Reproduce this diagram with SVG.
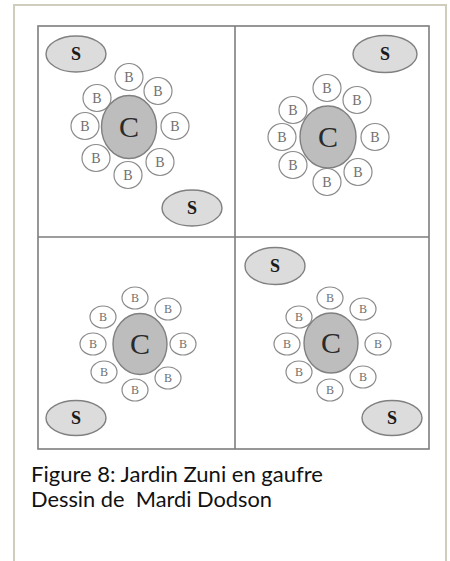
<svg xmlns="http://www.w3.org/2000/svg" width="450" height="561" viewBox="0 0 450 561">
<style>
.frame{fill:none;stroke:#cfcdbc;stroke-width:2}
.grid{fill:none;stroke:#7d7d7d;stroke-width:1.6}
.s{fill:#dcdcdc;stroke:#808080;stroke-width:1.4}
.c{fill:#bdbdbd;stroke:#808080;stroke-width:1.4}
.b{fill:#ffffff;stroke:#8a8a8a;stroke-width:1.2}
.st{font-family:"Liberation Serif",serif;font-weight:bold;font-size:18px;fill:#1a1a1a;text-anchor:middle}
.ct{font-family:"Liberation Serif",serif;font-size:30px;fill:#2a2a2a;text-anchor:middle}
.bt{font-family:"Liberation Serif",serif;font-size:14px;fill:#707070;text-anchor:middle}
.bt2{font-family:"Liberation Serif",serif;font-size:12px;fill:#707070;text-anchor:middle}
.cap{font-family:Lato,"Open Sans",sans-serif;font-size:21px;fill:#111111}
</style>
<rect width="450" height="561" fill="#ffffff"/>
<path class="frame" d="M14,562 V5 H446 V562"/>
<g id="grid">
<rect class="grid" x="38" y="26" width="391" height="423"/>
<line class="grid" x1="235" y1="26" x2="235" y2="449"/>
<line class="grid" x1="38" y1="237" x2="429" y2="237"/>
</g>
<g id="connectors"/>
<!-- Top-left -->
<g id="tl-s1"><ellipse class="s" cx="76" cy="54" rx="30" ry="18"/><text class="st" x="76" y="60">S</text></g>
<g id="tl-s2"><ellipse class="s" cx="192" cy="208" rx="30" ry="18"/><text class="st" x="192" y="214">S</text></g>
<g id="tl-b1"><ellipse class="b" cx="129" cy="77" rx="14" ry="13.5"/><text class="bt" x="129" y="82">B</text></g>
<g id="tl-b2"><ellipse class="b" cx="158" cy="91" rx="14" ry="13.5"/><text class="bt" x="158" y="96">B</text></g>
<g id="tl-b3"><ellipse class="b" cx="175" cy="126" rx="14" ry="13.5"/><text class="bt" x="175" y="131">B</text></g>
<g id="tl-b4"><ellipse class="b" cx="160" cy="162" rx="14" ry="13.5"/><text class="bt" x="160" y="167">B</text></g>
<g id="tl-b5"><ellipse class="b" cx="128" cy="175" rx="14" ry="13.5"/><text class="bt" x="128" y="180">B</text></g>
<g id="tl-b6"><ellipse class="b" cx="96" cy="158" rx="14" ry="13.5"/><text class="bt" x="96" y="163">B</text></g>
<g id="tl-b7"><ellipse class="b" cx="85" cy="126" rx="14" ry="13.5"/><text class="bt" x="85" y="131">B</text></g>
<g id="tl-b8"><ellipse class="b" cx="97" cy="98" rx="14" ry="13.5"/><text class="bt" x="97" y="103">B</text></g>
<g id="tl-c"><ellipse class="c" cx="129" cy="127" rx="27.5" ry="31.5"/><text class="ct" x="129" y="137">C</text></g>
<!-- Top-right -->
<g id="tr-s1"><ellipse class="s" cx="385" cy="54" rx="32" ry="18.5"/><text class="st" x="385" y="60">S</text></g>
<g id="tr-b1"><ellipse class="b" cx="327" cy="88" rx="14" ry="13.5"/><text class="bt" x="327" y="93">B</text></g>
<g id="tr-b2"><ellipse class="b" cx="357" cy="100" rx="14" ry="13.5"/><text class="bt" x="357" y="105">B</text></g>
<g id="tr-b3"><ellipse class="b" cx="375" cy="137" rx="14" ry="13.5"/><text class="bt" x="375" y="142">B</text></g>
<g id="tr-b4"><ellipse class="b" cx="358" cy="172" rx="14" ry="13.5"/><text class="bt" x="358" y="177">B</text></g>
<g id="tr-b5"><ellipse class="b" cx="327" cy="182" rx="14" ry="13.5"/><text class="bt" x="327" y="187">B</text></g>
<g id="tr-b6"><ellipse class="b" cx="293" cy="165" rx="14" ry="13.5"/><text class="bt" x="293" y="170">B</text></g>
<g id="tr-b7"><ellipse class="b" cx="282" cy="137" rx="14" ry="13.5"/><text class="bt" x="282" y="142">B</text></g>
<g id="tr-b8"><ellipse class="b" cx="293" cy="110" rx="14" ry="13.5"/><text class="bt" x="293" y="115">B</text></g>
<g id="tr-c"><ellipse class="c" cx="328" cy="137" rx="28" ry="31"/><text class="ct" x="328" y="147">C</text></g>
<!-- Bottom-left -->
<g id="bl-s1"><ellipse class="s" cx="76" cy="418" rx="30" ry="17.5"/><text class="st" x="76" y="424">S</text></g>
<g id="bl-b1"><ellipse class="b" cx="135" cy="298" rx="13" ry="11"/><text class="bt2" x="135" y="302">B</text></g>
<g id="bl-b2"><ellipse class="b" cx="168" cy="309" rx="13" ry="11"/><text class="bt2" x="168" y="313">B</text></g>
<g id="bl-b3"><ellipse class="b" cx="183" cy="344" rx="13" ry="11"/><text class="bt2" x="183" y="348">B</text></g>
<g id="bl-b4"><ellipse class="b" cx="168" cy="378" rx="13" ry="11"/><text class="bt2" x="168" y="382">B</text></g>
<g id="bl-b5"><ellipse class="b" cx="135" cy="390" rx="13" ry="11"/><text class="bt2" x="135" y="394">B</text></g>
<g id="bl-b6"><ellipse class="b" cx="104" cy="372" rx="13" ry="11"/><text class="bt2" x="104" y="376">B</text></g>
<g id="bl-b7"><ellipse class="b" cx="93" cy="344" rx="13" ry="11"/><text class="bt2" x="93" y="348">B</text></g>
<g id="bl-b8"><ellipse class="b" cx="103" cy="317" rx="13" ry="11"/><text class="bt2" x="103" y="321">B</text></g>
<g id="bl-c"><ellipse class="c" cx="140" cy="344" rx="27" ry="30.5"/><text class="ct" x="140" y="354">C</text></g>
<!-- Bottom-right -->
<g id="br-s1"><ellipse class="s" cx="275" cy="266" rx="30" ry="18.5"/><text class="st" x="275" y="272">S</text></g>
<g id="br-s2"><ellipse class="s" cx="392" cy="418" rx="30" ry="17.5"/><text class="st" x="392" y="424">S</text></g>
<g id="br-b1"><ellipse class="b" cx="330" cy="298" rx="13" ry="11"/><text class="bt2" x="330" y="302">B</text></g>
<g id="br-b2"><ellipse class="b" cx="363" cy="309" rx="13" ry="11"/><text class="bt2" x="363" y="313">B</text></g>
<g id="br-b3"><ellipse class="b" cx="378" cy="344" rx="13" ry="11"/><text class="bt2" x="378" y="348">B</text></g>
<g id="br-b4"><ellipse class="b" cx="363" cy="377" rx="13" ry="11"/><text class="bt2" x="363" y="381">B</text></g>
<g id="br-b5"><ellipse class="b" cx="330" cy="390" rx="13" ry="11"/><text class="bt2" x="330" y="394">B</text></g>
<g id="br-b6"><ellipse class="b" cx="299" cy="372" rx="13" ry="11"/><text class="bt2" x="299" y="376">B</text></g>
<g id="br-b7"><ellipse class="b" cx="287" cy="344" rx="13" ry="11"/><text class="bt2" x="287" y="348">B</text></g>
<g id="br-b8"><ellipse class="b" cx="299" cy="317" rx="13" ry="11"/><text class="bt2" x="299" y="321">B</text></g>
<g id="br-c"><ellipse class="c" cx="331" cy="343" rx="27" ry="30"/><text class="ct" x="331" y="353">C</text></g>
<g id="caption">
<text class="cap" x="31" y="482" textLength="292" lengthAdjust="spacingAndGlyphs">Figure 8: Jardin Zuni en gaufre</text>
<text class="cap" x="31" y="507" textLength="241" lengthAdjust="spacingAndGlyphs" xml:space="preserve">Dessin de  Mardi Dodson</text>
</g>
</svg>
